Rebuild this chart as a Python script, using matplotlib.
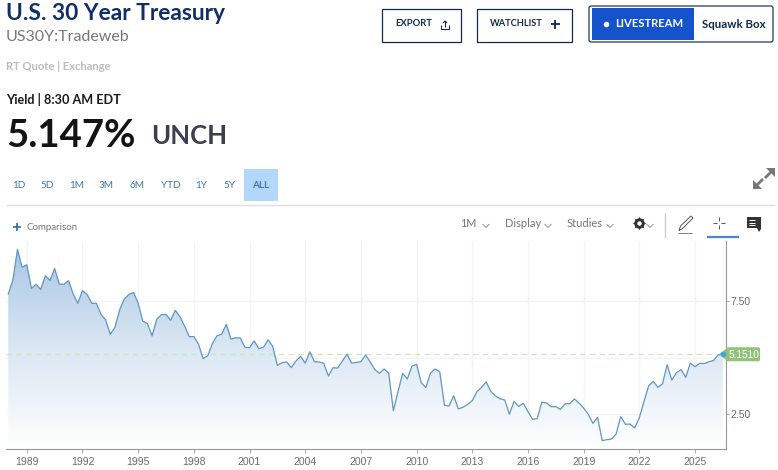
import numpy as np
import matplotlib
matplotlib.use("Agg")
import matplotlib.pyplot as plt
from matplotlib.colors import LinearSegmentedColormap
from matplotlib.patches import FancyBboxPatch, Polygon, Rectangle

# quarterly yield closes, starting Q1 1988
yields_1988_2001 = [7.81, 8.43, 9.78, 8.99, 9.10, 8.06, 8.24, 8.01, 8.62, 8.41, 8.94, 8.25, 8.24, 8.40,
                    7.81, 7.40, 7.96, 7.79, 7.40, 7.40, 6.91, 6.66, 6.03, 6.34, 7.10, 7.59, 7.79, 7.88,
                    7.40, 6.62, 6.50, 5.96, 6.69, 6.90, 6.91, 6.65, 7.09, 6.81, 6.40, 5.93, 5.93, 5.60,
                    4.96, 5.09, 5.63, 5.97, 6.04, 6.47, 5.82, 5.88, 5.87, 5.46, 5.44, 5.74, 5.40]
yields_2001_2014 = [5.46, 5.79, 5.50, 4.66, 4.78, 4.81, 4.56, 4.85, 5.06, 4.76, 5.26, 4.82, 4.81, 4.75,
                    4.19, 4.56, 4.54, 4.85, 5.16, 4.76, 4.79, 4.82, 5.12, 4.82, 4.47, 4.31, 4.50, 4.31,
                    2.66, 3.50, 4.31, 4.06, 4.63, 4.71, 3.90, 3.68, 4.32, 4.50, 4.38, 2.90, 2.87, 3.32,
                    2.74, 2.81, 2.94, 3.10, 3.50, 3.69, 3.93, 3.51, 3.31, 3.19, 3.13, 2.51]
yields_2015_2026 = [3.07, 2.85, 2.99, 2.62, 2.28, 2.31, 3.04, 3.00, 2.84, 2.84, 2.72, 2.96, 2.97, 3.18,
                    3.00, 2.78, 2.50, 2.10, 2.37, 1.34, 1.38, 1.41, 1.63, 2.40, 2.06, 2.07, 1.90, 2.35,
                    3.06, 3.75, 3.96, 3.69, 3.85, 4.69, 4.01, 4.34, 4.47, 4.13, 4.76, 4.60, 4.75, 4.74,
                    4.82, 4.88, 5.12, 5.151]
year_ticks = [1989, 1992, 1995, 1998, 2001, 2004, 2007, 2010, 2013, 2016, 2019, 2022, 2025]
yield_ticks = [2.5, 5.0, 7.5]
yield_labels = ["2.50", "", "7.50"]
last_value = 5.151
range_buttons = ["1D", "5D", "1M", "3M", "6M", "YTD", "1Y", "5Y", "ALL"]
range_x = [19, 47, 76.5, 106, 137, 170.5, 201.5, 229.5, 260.5]

yields = np.array(yields_1988_2001 + yields_2001_2014 + yields_2015_2026)
quarters = 1988 + np.arange(len(yields)) / 4

W, H = 778, 470
fig = plt.figure(figsize=(W / 100, H / 100), dpi=100, facecolor="white")

# price chart
L, R, T, B = 6, 726, 241, 449
ax = fig.add_axes([L / W, 1 - B / H, (R - L) / W, (B - T) / H])
ax.set_xlim(1987.88, 2026.67)
ax.set_ylim(0.97, 10.15)
ax.set_xticks(year_ticks)
ax.set_xticklabels([str(y) for y in year_ticks])
ax.yaxis.tick_right()
ax.set_yticks(yield_ticks)
ax.set_yticklabels(yield_labels)
ax.tick_params(axis="both", length=3, width=0.7, color="#aaaaaa", labelcolor="#6a6a6a", labelsize=7.5, pad=2.5)
ax.tick_params(axis="y", length=2, pad=1)
for label in ax.get_xticklabels() + ax.get_yticklabels():
    label.set_family("Liberation Sans")
for side in ["top", "left"]:
    ax.spines[side].set_visible(False)
for side in ["right", "bottom"]:
    ax.spines[side].set_color("#999999")
ax.grid(True, color="#f3f3f3", linewidth=1)
ax.set_axisbelow(True)

blues = LinearSegmentedColormap.from_list("fade", ["#ffffff", "#d9e6f3", "#a6c4e2"])
shade = ax.imshow(np.linspace(1, 0, 256).reshape(-1, 1), cmap=blues, aspect="auto", vmin=0, vmax=1,
                  extent=[1987.88, 2026.67, 0.97, 10.15], zorder=1)
outline = Polygon(np.vstack([[quarters[0], 0.97], np.column_stack([quarters, yields]), [quarters[-1], 0.97]]),
                  transform=ax.transData, facecolor="none", edgecolor="none")
ax.add_patch(outline)
shade.set_clip_path(outline)
ax.set_xlim(1987.88, 2026.67)
ax.set_ylim(0.97, 10.15)

ax.axhline(last_value, color="#d3e6c2", linewidth=1, linestyle=(0, (4, 3)), zorder=2)
ax.plot(quarters, yields, color="#5f96c3", linewidth=0.9, zorder=3)

# everything else on the page is laid out in pixels
ui = fig.add_axes([0, 0, 1, 1], facecolor="none")
ui.set_xlim(0, W)
ui.set_ylim(H, 0)
ui.axis("off")


def txt(x, y, s, size, color, weight="normal", ha="left", family="Lato"):
    ui.text(x, y, s, fontsize=size, color=color, fontweight=weight, ha=ha, va="center", family=family)


def seg(xs, ys, color, lw=1.0):
    ui.plot(xs, ys, color=color, linewidth=lw, solid_capstyle="butt")


def chevron(x, y, color="#888888"):
    seg([x - 3.5, x, x + 3.5], [y - 2, y + 1.5, y - 2], color, 0.6)


NAVY = "#10294f"

# heading block
txt(6, 13, "U.S. 30 Year Treasury", 16.4, "#0f2f66", "bold")
txt(6, 37, "US30Y:Tradeweb", 11.5, "#777777")
txt(6, 66, "RT Quote | Exchange", 8.1, "#bdbdbd", "bold")
txt(6, 99.5, "Yield | 8:30 AM EDT", 9.1, "#1a1a1a", "bold")
txt(6, 136, "5.147%", 27.6, "#141414", "bold")
txt(151, 136, "UNCH", 18.5, "#3b3f50", "bold")

# header buttons
ui.add_patch(Rectangle((382.5, 8.5), 79, 33, facecolor="white", edgecolor=NAVY, linewidth=0.9))
txt(395, 24, "EXPORT", 6.8, NAVY, "bold")
seg([441, 441, 449, 449], [25, 29, 29, 25], NAVY, 0.8)
seg([445, 445], [21, 27], NAVY, 0.8)
seg([443, 445, 447], [23, 21, 23], NAVY, 0.8)
ui.add_patch(Rectangle((477.5, 8.5), 95, 33, facecolor="white", edgecolor=NAVY, linewidth=0.9))
txt(490, 24, "WATCHLIST", 6.7, NAVY, "bold")
seg([551, 560], [24, 24], NAVY, 1.3)
seg([555.5, 555.5], [19.5, 28.5], NAVY, 1.3)
ui.add_patch(FancyBboxPatch((589, 6), 184, 36, boxstyle="round,pad=0,rounding_size=2",
                            facecolor="white", edgecolor="#1d3b66", linewidth=0.9))
ui.add_patch(Rectangle((592, 8), 102, 32, facecolor="#1553cc", edgecolor="none"))
ui.plot([606], [24], "o", color="white", markersize=4, markeredgewidth=0)
txt(615, 23.5, "LIVESTREAM", 8.1, "white", "bold")
txt(702, 24.5, "Squawk Box", 8.3, NAVY, "bold")

# range selector
ui.add_patch(Rectangle((244, 169), 34, 32, facecolor="#b3d7fb", edgecolor="none"))
for name, x in zip(range_buttons, range_x):
    txt(x, 185, name, 7.2, "#3f78ad", "bold" if name == "ALL" else "normal", ha="center")
seg([6, 775], [204.5, 204.5], "#dddddd", 1)

# expand arrows
ui.add_patch(Polygon([[775, 168], [775, 177], [766, 168]], facecolor="#777777", edgecolor="none"))
ui.add_patch(Polygon([[753, 189], [753, 180], [762, 189]], facecolor="#777777", edgecolor="none"))
seg([772, 765], [171, 178], "#777777", 2.0)
seg([756, 763], [186, 179], "#777777", 2.0)

# chart toolbar
seg([13.5, 21.5], [226.5, 226.5], "#2f6aa6", 1.2)
seg([17.5, 17.5], [222.5, 230.5], "#2f6aa6", 1.2)
txt(26.5, 227, "Comparison", 7, "#777777")
txt(460, 223.5, "1M", 7.8, "#777777")
chevron(486, 226)
txt(505.5, 223.5, "Display", 8, "#777777")
chevron(548, 226)
txt(567, 223.5, "Studies", 8, "#777777")
chevron(610, 226)
ui.plot([639], [222.5], "o", color="#333333", markersize=7.5, markeredgewidth=0)
ui.plot([639], [222.5], marker=(8, 1, 0), color="#333333", markersize=10, markeredgewidth=0)
ui.plot([639], [222.5], "o", color="white", markersize=3.2, markeredgewidth=0)
chevron(650, 226)
seg([665.5, 665.5], [213, 238], "#cccccc", 1)
# pencil
seg([679, 680.5, 691, 693, 682.5, 679], [230.5, 226, 216, 218, 228.5, 230.5], "#555555", 0.7)
seg([678, 692], [232.5, 232.5], "#666666", 0.6)
# crosshair
seg([713, 717], [223, 223], "#555555", 0.7)
seg([721, 725], [223, 223], "#555555", 0.7)
seg([719, 719], [217, 221], "#555555", 0.7)
seg([719, 719], [225, 229], "#555555", 0.7)
seg([707, 739], [236.5, 236.5], "#4a86d8", 1.6)
# comment bubble
ui.add_patch(Polygon([[747, 217], [761, 217], [761, 229], [759, 232], [757, 228], [747, 228]], facecolor="#333333", edgecolor="none"))
for y in [220, 222.5, 225]:
    seg([749, 755], [y, y], "white", 0.7)

# last value tag
tag_y = T + (10.15 - last_value) / (10.15 - 0.97) * (B - T)
tag_x = L + (quarters[-1] - 1987.88) / (2026.67 - 1987.88) * (R - L)
ui.add_patch(FancyBboxPatch((727, tag_y - 7), 33, 14, boxstyle="round,pad=0,rounding_size=1.5", facecolor="#92c27b", edgecolor="none"))
ui.add_patch(Polygon([[tag_x - 4, tag_y], [728, tag_y - 7], [728, tag_y + 7]], facecolor="#92c27b", edgecolor="none"))
ui.plot([tag_x + 0.5], [tag_y], "o", color="#3ea6dc", markersize=4, markeredgewidth=0)
txt(729, tag_y + 0.3, "5.1510", 7.3, "white", family="Liberation Sans")

fig.savefig("out.png", dpi=100)
